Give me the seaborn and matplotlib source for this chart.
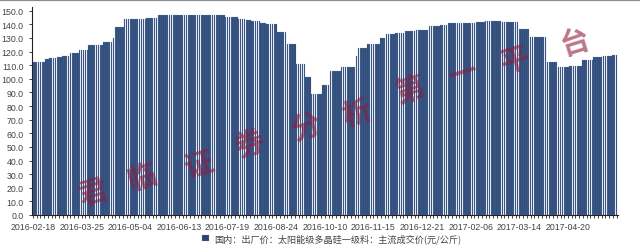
import numpy as np
import pandas as pd
import matplotlib
matplotlib.use("Agg")
import matplotlib.pyplot as plt
import seaborn as sns
from matplotlib.lines import Line2D

# ---- data: price levels and how many trading days each held ----
levels = [112, 114.5, 115.5, 116.2, 117, 119, 121.5, 125, 127.3, 130, 138, 144, 145, 147,
          146.5, 145.1, 144.2, 143.4, 142.2, 141, 140.2, 134.1, 125.5, 110.9, 101.1, 88.5,
          95.7, 105.5, 108.4, 117, 122.4, 125.8, 129.7, 132.9, 133.6, 134.9, 136.1, 138.6,
          139.8, 140.7, 141, 141.5, 142.2, 142.7, 141.7, 136.6, 130.5, 112.1, 108.4, 109.2,
          114, 115.8, 116.5, 117.7]
runs = [7, 2, 4, 3, 4, 5, 5, 8, 5, 1, 5, 12, 6, 24, 12, 7, 4, 3, 5, 3, 6, 5, 5, 5, 3, 6,
        4, 6, 8, 1, 5, 7, 3, 5, 5, 6, 7, 6, 4, 8, 7, 5, 5, 4, 9, 6, 9, 6, 6, 7, 6, 5, 5, 3]
tick_labels = ["2016-02-18", "2016-03-25", "2016-05-04", "2016-06-13", "2016-07-19",
               "2016-08-24", "2016-10-10", "2016-11-15", "2016-12-21", "2017-02-06",
               "2017-03-14", "2017-04-20"]
series_name = "国内：出厂价：太阳能级多晶硅一级料：主流成交价(元/公斤)"
watermark = "君临证券分析第一平台"

values = np.repeat(levels, runs)
df = pd.DataFrame({"idx": np.arange(len(values)), "price": values})

sns.set_theme(style="white")
plt.rcParams["font.family"] = ["Liberation Sans", "Noto Sans CJK SC", "DejaVu Sans"]

W, H = 640, 251
fig = plt.figure(figsize=(W / 100, H / 100), dpi=100)
n = len(values)
pxw = 1.8706
left_px = 33 - 0.5 * pxw
right_px = 33 + (n - 0.5) * pxw
bottom_px, top_px = 216, 216 - 1.362 * 153
ax = fig.add_axes([left_px / W, (H - bottom_px) / H, (right_px - left_px) / W, (bottom_px - top_px) / H])

sns.barplot(data=df, x="idx", y="price", ax=ax, color="#2A4676", saturation=1,
            width=0.78, edgecolor="#7D95BC", linewidth=0.15, label=series_name)

ax.set_xlim(-0.5, n - 0.5)
ax.set_ylim(0, 153)
ax.set_xlabel("")
ax.set_ylabel("")
ax.set_yticks(np.arange(0, 151, 10))
ax.set_yticklabels([f"{v:.1f}" for v in np.arange(0, 151, 10)])
major = np.arange(0, 26 * len(tick_labels), 26)
ax.set_xticks(major)
ax.set_xticklabels(tick_labels)
ax.set_xticks(np.arange(0, n, 2), minor=True)
for s in ["top", "right"]:
    ax.spines[s].set_visible(False)
for s in ["left", "bottom"]:
    ax.spines[s].set_color("#222222")
    ax.spines[s].set_linewidth(0.8)
ax.tick_params(axis="both", which="both", direction="out", length=2.2, width=0.6,
               color="#222222", labelsize=6.3, labelcolor="#444444")
ax.tick_params(axis="x", which="major", pad=3, bottom=True)
ax.tick_params(axis="x", which="minor", bottom=True, length=2.2)
ax.tick_params(axis="y", which="major", left=True, pad=4)

leg = ax.legend(loc="center", bbox_to_anchor=(332 / W, 1 - 239 / H), bbox_transform=fig.transFigure,
                frameon=False, handlelength=0.7, handleheight=0.7, handletextpad=0.6,
                prop={"family": ["Noto Sans CJK SC", "DejaVu Sans"], "size": 6.6})
for t in leg.get_texts():
    t.set_color("#444444")

# watermark characters
pos = [(93, 193), (142, 177), (200, 165), (250, 145), (305, 127), (357, 113),
       (410, 90), (463, 73), (515, 60), (575, 42)]
for ch, (px, py) in zip(watermark, pos):
    fig.text(px / W, 1 - py / H, ch, ha="center", va="center", fontsize=21, rotation=17,
             color="#8E1C3C", alpha=0.6, fontweight="bold",
             family=["Noto Sans CJK SC", "DejaVu Sans"])

# top frame line
fig.add_artist(Line2D([0, 1], [1 - 1 / H, 1 - 1 / H], transform=fig.transFigure,
                      color="#8C8C8C", linewidth=1.6))

fig.savefig("out.png", dpi=100)
